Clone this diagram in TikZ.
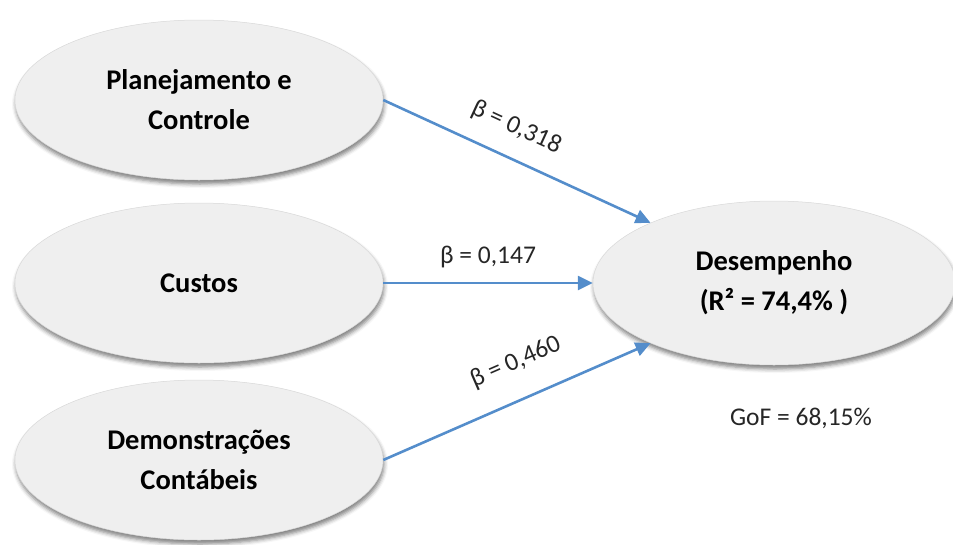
\documentclass[tikz,border=0pt]{standalone}
\usepackage{fontspec}
\setmainfont{Carlito}
\usetikzlibrary{shapes.geometric,arrows.meta,shadows.blur}
\definecolor{arrblue}{RGB}{84,141,203}
\definecolor{ellfill}{RGB}{239,239,239}
\begin{document}
\begin{tikzpicture}[x=1pt,y=-1pt,
  latent/.style={ellipse, fill=ellfill, draw=gray!30, line width=0.5pt,
    minimum width=368pt, minimum height=160pt, inner sep=0pt,
    align=center, font=\fontsize{28.5}{40}\selectfont\bfseries,
    blur shadow={shadow xshift=1pt, shadow yshift=-4pt, shadow opacity=50, shadow blur radius=4pt}},
  path/.style={draw=arrblue, line width=2.6pt, -{Triangle[length=15pt,width=14pt]}},
  coef/.style={font=\fontsize{25.5}{28}\selectfont, text=black!85}]
\useasboundingbox (0,0) rectangle (953,544);
\node[latent] (pc) at (199,100) {Planejamento e\\Controle};
\node[latent] (cu) at (199,283) {Custos};
\node[latent] (dc) at (199,460) {Demonstrações\\Contábeis};
\node[latent, minimum width=362pt, minimum height=164pt] (des) at (774,283) {Desempenho\\(R² = 74,4\% )};
\draw[path] (pc.east) -- node[coef, sloped, pos=0.45, above=15pt] (l1) {β = 0,318} (des.154);
\draw[path] (cu.east) -- node[coef, above=10pt] (l2) {β = 0,147} (des.west);
\draw[path] (dc.east) -- node[coef, sloped, pos=0.55, above=21pt] (l3) {β = 0,460} (des.206);
\node[coef] (gof) at (801,418) {GoF = 68,15\%};
\end{tikzpicture}
\end{document}
